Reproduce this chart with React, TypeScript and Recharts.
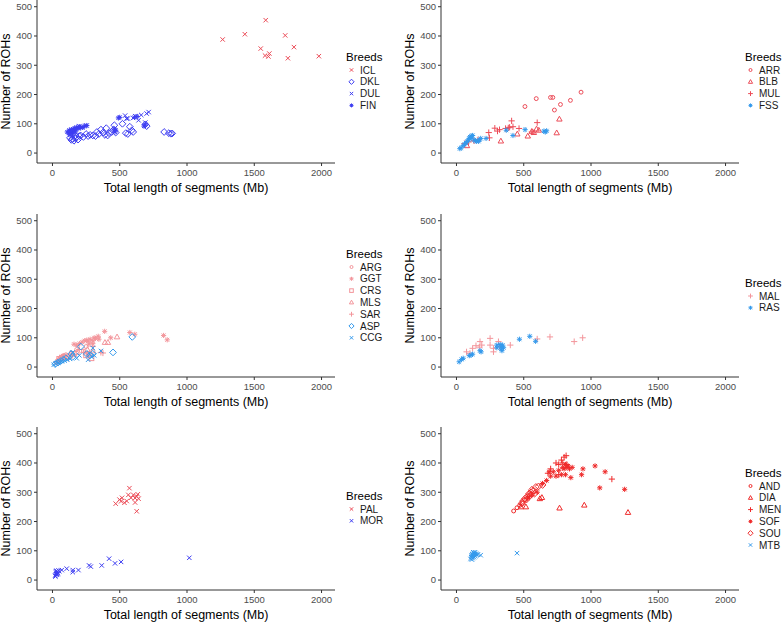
import React from "react";
import { ScatterChart, Scatter, XAxis, YAxis, Legend } from "recharts";

type Pt = [number, number];
type Kind = "circle" | "smallCircle" | "square" | "triangle" | "plus" | "cross" | "asterisk" | "diamond";

const xTicks = [0, 500, 1000, 1500, 2000];
const yTicks = [0, 100, 200, 300, 400, 500];

// panel 1
const icl: Pt[] = [[1265, 388], [1430, 406], [1585, 454], [1548, 357], [1580, 333], [1605, 330], [1612, 340], [1730, 402], [1795, 362], [1750, 324], [1980, 331]];
const dkl: Pt[] = [[130, 52], [140, 45], [150, 48], [160, 42], [170, 50], [180, 55], [190, 46], [210, 60], [230, 55], [250, 65], [265, 58], [280, 62], [300, 60], [320, 58], [345, 65], [360, 80], [375, 70], [390, 62], [400, 85], [420, 68], [440, 72], [455, 80], [460, 95], [470, 70], [520, 100], [545, 68], [560, 65], [575, 90], [590, 78], [600, 72], [690, 98], [700, 92], [830, 72], [865, 68], [880, 66], [890, 67], [170, 60], [200, 58], [330, 72], [410, 60]];
const dul: Pt[] = [[540, 128], [550, 118], [600, 120], [615, 126], [640, 112], [660, 130], [700, 135], [715, 140], [690, 104], [200, 92], [220, 88], [250, 94], [560, 118]];
const fin: Pt[] = [[110, 72], [120, 68], [125, 78], [130, 75], [135, 70], [140, 80], [145, 74], [150, 68], [155, 82], [160, 76], [165, 85], [170, 72], [175, 80], [180, 88], [190, 84], [200, 90], [210, 86], [225, 88], [240, 92], [255, 94], [130, 62], [150, 58], [490, 120], [500, 122], [610, 122], [630, 125], [680, 92], [690, 95], [460, 82], [465, 72], [470, 78]];

// panel 2
const arr: Pt[] = [[509, 159], [593, 186], [699, 190], [716, 190], [728, 147], [773, 166], [847, 180], [926, 208]];
const blb: Pt[] = [[330, 41], [452, 65], [530, 58], [560, 74], [575, 70], [595, 82], [612, 78], [745, 69], [765, 116], [78, 25]];
const mul: Pt[] = [[60, 32], [90, 38], [130, 42], [160, 45], [240, 70], [245, 52], [285, 85], [305, 75], [320, 80], [365, 84], [385, 86], [410, 110], [420, 90], [465, 84], [560, 72], [600, 104], [395, 88]];
const fss: Pt[] = [[25, 15], [35, 18], [50, 25], [60, 30], [70, 35], [80, 40], [90, 45], [95, 50], [100, 55], [110, 58], [120, 60], [130, 45], [150, 40], [170, 45], [180, 50], [220, 50], [370, 78], [420, 60], [510, 80], [650, 75], [660, 72], [670, 76], [165, 40], [140, 42], [110, 52]];

// panel 3
const arg: Pt[] = [[30, 15], [45, 22], [55, 28], [65, 30], [75, 35], [85, 38], [100, 42], [140, 48], [180, 60], [250, 70], [40, 18], [60, 25], [230, 55]];
const ggt: Pt[] = [[40, 20], [50, 25], [60, 30], [70, 35], [80, 38], [160, 78], [180, 75], [200, 80], [220, 85], [240, 90], [255, 92], [265, 88], [280, 95], [300, 90], [310, 100], [320, 98], [340, 105], [345, 95], [388, 122], [433, 100], [575, 118], [612, 112], [826, 108], [853, 93], [300, 80], [270, 78]];
const crs: Pt[] = [[50, 28], [70, 32], [90, 36], [160, 45], [250, 40], [270, 45], [290, 30]];
const mls: Pt[] = [[60, 30], [80, 35], [180, 50], [300, 55], [390, 84], [412, 84], [480, 103], [260, 60]];
const sar: Pt[] = [[30, 18], [45, 25], [90, 35], [130, 45], [150, 40], [200, 60], [230, 50], [260, 45], [300, 70], [360, 50], [375, 48], [120, 30]];
const asp: Pt[] = [[20, 10], [40, 15], [60, 20], [80, 25], [100, 30], [150, 35], [210, 70], [255, 45], [280, 40], [300, 45], [450, 50], [593, 103], [140, 45]];
const ccg: Pt[] = [[10, 8], [25, 12], [40, 14], [55, 18], [70, 20], [90, 22], [110, 25], [130, 28], [180, 30], [265, 25], [290, 35], [310, 40], [360, 55], [300, 65], [200, 40], [150, 50]];

// panel 4
const mal: Pt[] = [[75, 52], [120, 64], [145, 73], [175, 87], [188, 75], [250, 98], [250, 75], [275, 64], [275, 52], [312, 87], [400, 75], [600, 96], [695, 103], [875, 87], [938, 100], [100, 47], [170, 68], [320, 70]];
const ras: Pt[] = [[20, 18], [50, 30], [38, 26], [95, 39], [108, 41], [120, 44], [175, 56], [183, 52], [300, 66], [325, 77], [333, 69], [338, 56], [343, 75], [350, 66], [468, 95], [545, 105], [588, 88], [333, 62], [300, 75]];

// panel 5
const pal: Pt[] = [[470, 261], [498, 275], [510, 269], [517, 281], [535, 264], [552, 270], [564, 291], [572, 314], [584, 281], [601, 291], [614, 280], [614, 265], [626, 286], [634, 293], [626, 235], [640, 278]];
const mor: Pt[] = [[20, 15], [25, 20], [28, 25], [30, 18], [32, 22], [35, 28], [38, 20], [40, 24], [22, 12], [26, 30], [30, 32], [45, 33], [50, 30], [69, 34], [106, 39], [151, 34], [151, 27], [193, 34], [272, 50], [285, 46], [366, 50], [421, 73], [465, 57], [510, 62], [1017, 76]];

// panel 6
const and: Pt[] = [[425, 236], [450, 247], [470, 255], [490, 262]];
const dia: Pt[] = [[479, 250], [516, 250], [620, 278], [635, 282], [766, 246], [950, 256], [1275, 231]];
const men: Pt[] = [[525, 280], [560, 290], [680, 365], [700, 380], [740, 400], [760, 395], [780, 410], [800, 420], [815, 425], [790, 400], [820, 395], [760, 360], [1155, 345], [540, 285]];
const sof: Pt[] = [[640, 330], [670, 340], [700, 355], [720, 370], [740, 355], [760, 375], [780, 360], [790, 385], [800, 380], [810, 395], [820, 385], [830, 390], [840, 380], [850, 350], [860, 385], [930, 360], [940, 380], [1030, 390], [1065, 315], [1105, 370], [1250, 310], [530, 280], [560, 295], [600, 300], [690, 370], [810, 360]];
const sou: Pt[] = [[485, 262], [495, 270], [510, 278], [525, 285], [540, 295], [555, 300], [560, 308], [575, 305], [590, 318], [610, 320], [640, 325], [520, 275], [550, 290], [580, 295]];
const mtb: Pt[] = [[105, 72], [110, 78], [112, 85], [115, 80], [118, 88], [120, 75], [122, 82], [125, 90], [128, 85], [130, 78], [132, 92], [135, 88], [138, 95], [140, 82], [145, 90], [150, 86], [160, 88], [180, 85], [450, 92], [115, 70], [125, 95]];

interface Series {
  name: string;
  points: Pt[];
  kind: Kind;
  color: string;
}

interface Panel {
  left: number;
  top: number;
  legendLeft: number;
  series: Series[];
}

const RED1 = "#ec4c58";
const BLUE1 = "#3d3df2";
const PINK = "#f3959b";
const SKY = "#3399ec";
const RED6 = "#ef2b2b";

const panels: Panel[] = [
  {
    left: 0, top: 0, legendLeft: 346, series: [
      { name: "ICL", points: icl, kind: "cross", color: RED1 },
      { name: "DKL", points: dkl, kind: "diamond", color: BLUE1 },
      { name: "DUL", points: dul, kind: "cross", color: BLUE1 },
      { name: "FIN", points: fin, kind: "asterisk", color: BLUE1 },
    ],
  },
  {
    left: 404, top: 0, legendLeft: 341, series: [
      { name: "ARR", points: arr, kind: "smallCircle", color: RED1 },
      { name: "BLB", points: blb, kind: "triangle", color: RED1 },
      { name: "MUL", points: mul, kind: "plus", color: RED1 },
      { name: "FSS", points: fss, kind: "asterisk", color: SKY },
    ],
  },
  {
    left: 0, top: 214, legendLeft: 346, series: [
      { name: "ARG", points: arg, kind: "smallCircle", color: PINK },
      { name: "GGT", points: ggt, kind: "asterisk", color: PINK },
      { name: "CRS", points: crs, kind: "square", color: PINK },
      { name: "MLS", points: mls, kind: "triangle", color: PINK },
      { name: "SAR", points: sar, kind: "plus", color: PINK },
      { name: "ASP", points: asp, kind: "diamond", color: SKY },
      { name: "CCG", points: ccg, kind: "cross", color: SKY },
    ],
  },
  {
    left: 404, top: 214, legendLeft: 341, series: [
      { name: "MAL", points: mal, kind: "plus", color: PINK },
      { name: "RAS", points: ras, kind: "asterisk", color: SKY },
    ],
  },
  {
    left: 0, top: 427, legendLeft: 346, series: [
      { name: "PAL", points: pal, kind: "cross", color: RED1 },
      { name: "MOR", points: mor, kind: "cross", color: BLUE1 },
    ],
  },
  {
    left: 404, top: 427, legendLeft: 341, series: [
      { name: "AND", points: and, kind: "smallCircle", color: RED6 },
      { name: "DIA", points: dia, kind: "triangle", color: RED6 },
      { name: "MEN", points: men, kind: "plus", color: RED6 },
      { name: "SOF", points: sof, kind: "asterisk", color: RED6 },
      { name: "SOU", points: sou, kind: "diamond", color: RED6 },
      { name: "MTB", points: mtb, kind: "cross", color: SKY },
    ],
  },
];

const FONT = "'Liberation Sans', Arial, sans-serif";
const W = 392;
const H = 205;
const PLOT_H = 163;

function Glyph({ kind, cx, cy, color, r }: { kind: Kind; cx: number; cy: number; color: string; r: number }) {
  const common = { fill: "none", stroke: color, strokeWidth: 1 };
  switch (kind) {
    case "circle":
      return <circle cx={cx} cy={cy} r={r} {...common} />;
    case "smallCircle":
      return <circle cx={cx} cy={cy} r={r * 0.75} {...common} />;
    case "square":
      return <rect x={cx - r * 0.9} y={cy - r * 0.9} width={r * 1.8} height={r * 1.8} {...common} />;
    case "triangle": {
      const d = `M${cx},${cy - r * 1.1} L${cx + r * 1.05},${cy + r * 0.75} L${cx - r * 1.05},${cy + r * 0.75} Z`;
      return <path d={d} {...common} />;
    }
    case "plus":
      return <path d={`M${cx - r * 1.2},${cy} H${cx + r * 1.2} M${cx},${cy - r * 1.2} V${cy + r * 1.2}`} {...common} />;
    case "cross":
      return <path d={`M${cx - r * 0.85},${cy - r * 0.85} L${cx + r * 0.85},${cy + r * 0.85} M${cx - r * 0.85},${cy + r * 0.85} L${cx + r * 0.85},${cy - r * 0.85}`} {...common} />;
    case "asterisk":
      return (
        <path
          d={`M${cx - r},${cy} H${cx + r} M${cx},${cy - r} V${cy + r} M${cx - r * 0.75},${cy - r * 0.75} L${cx + r * 0.75},${cy + r * 0.75} M${cx - r * 0.75},${cy + r * 0.75} L${cx + r * 0.75},${cy - r * 0.75}`}
          {...common}
        />
      );
    case "diamond": {
      const k = r * 1.3;
      return <path d={`M${cx},${cy - k} L${cx + k},${cy} L${cx},${cy + k} L${cx - k},${cy} Z`} {...common} />;
    }
  }
  return null;
}

const BreedLegend = ({ items }: { items: Series[] }) => {
  const h = 14 + items.length * 11.8;
  return (
    <svg width={40} height={h} style={{ display: "block", overflow: "visible", fontFamily: FONT }}>
      <text x={0} y={8} fontSize={11.5} fill="#000">Breeds</text>
      {items.map((s, i) => {
        const cy = 17 + i * 11.8;
        return (
          <g key={s.name}>
            <Glyph kind={s.kind} cx={5.5} cy={cy} color={s.color} r={2} />
            <text x={14} y={cy + 3.6} fontSize={10} fill="#1a1a1a">{s.name}</text>
          </g>
        );
      })}
    </svg>
  );
};

function BreedPanel({ panel }: { panel: Panel }) {
  const n = panel.series.length;
  const titleY = PLOT_H / 2 - (13 + (n - 1) * 11.8) / 2;
  return (
    <div style={{ position: "absolute", left: panel.left, top: panel.top }}>
      <ScatterChart width={W} height={H} margin={{ top: 0, right: 57, bottom: 0, left: 7 }} style={{ fontFamily: FONT }}>
        <XAxis
          type="number"
          dataKey="x"
          domain={[-115, 2100]}
          ticks={xTicks}
          allowDataOverflow
          height={42}
          tickSize={3}
          tickMargin={3}
          axisLine={{ stroke: "#333", strokeWidth: 1 }}
          tickLine={{ stroke: "#333" }}
          tick={{ fill: "#4d4d4d", fontSize: 9.5, fontFamily: FONT }}
          label={{ value: "Total length of segments (Mb)", position: "insideBottom", offset: 13, fill: "#000", fontSize: 12.5, fontFamily: FONT }}
        />
        <YAxis
          type="number"
          dataKey="y"
          domain={[-34, 523]}
          ticks={yTicks}
          allowDataOverflow
          width={30}
          tickSize={3}
          tickMargin={2}
          axisLine={{ stroke: "#333", strokeWidth: 1 }}
          tickLine={{ stroke: "#333" }}
          tick={{ fill: "#4d4d4d", fontSize: 9.5, fontFamily: FONT }}
          label={{ value: "Number of ROHs", angle: -90, position: "insideLeft", offset: -1, fill: "#000", fontSize: 12.5, fontFamily: FONT, style: { textAnchor: "middle" } }}
        />
        <Legend
          layout="vertical"
          align="center"
          verticalAlign="middle"
          wrapperStyle={{ left: panel.legendLeft, top: titleY - 4, width: 40 }}
          content={() => <BreedLegend items={panel.series} />}
        />
        {panel.series.map((s) => (
          <Scatter
            key={s.name}
            name={s.name}
            data={s.points.map(([x, y]) => ({ x, y }))}
            isAnimationActive={false}
            shape={(p: any) => <Glyph kind={s.kind} cx={p.cx} cy={p.cy} color={s.color} r={2.6} />}
          />
        ))}
      </ScatterChart>
    </div>
  );
}

export default function App() {
  return (
    <div style={{ position: "absolute", left: 0, top: 0, width: 784, height: 623, overflow: "hidden", background: "#fff" }}>
      {panels.map((p, i) => (
        <BreedPanel key={i} panel={p} />
      ))}
    </div>
  );
}
